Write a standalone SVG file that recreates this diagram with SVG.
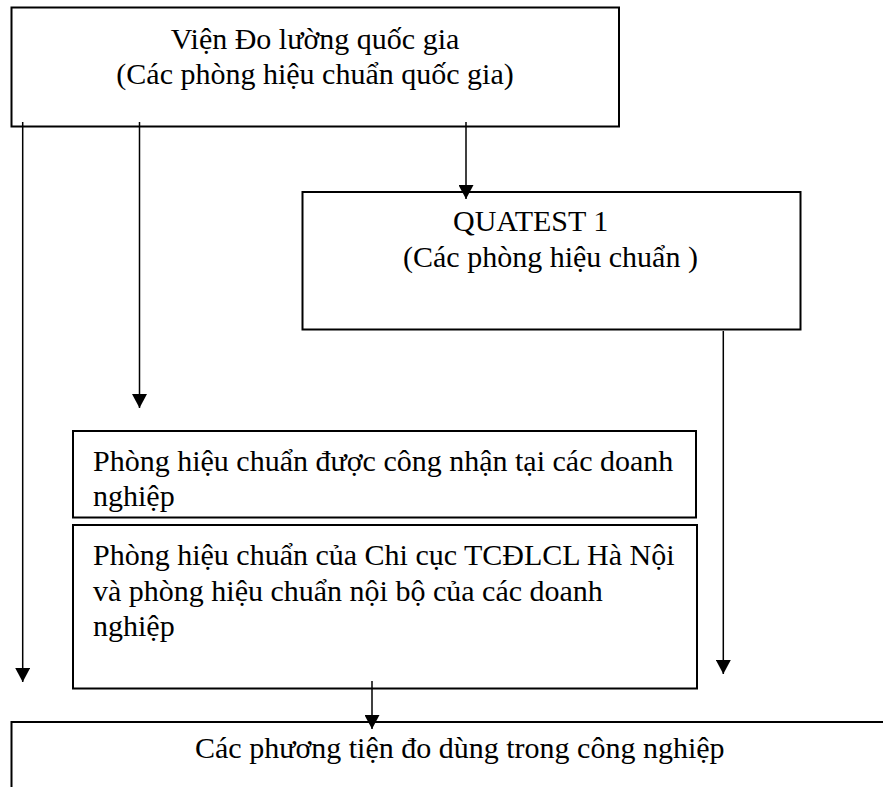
<svg xmlns="http://www.w3.org/2000/svg" width="883" height="787" viewBox="0 0 883 787">
<style>
.box{fill:#fff;stroke:#000;stroke-width:2}
.t{font-family:"Liberation Serif","Times New Roman",serif;font-size:30px;fill:#000}
.c{text-anchor:middle}
.ln{stroke:#000;stroke-width:1.5;fill:none}
</style>
<defs>
<marker id="ah" markerUnits="userSpaceOnUse" markerWidth="14" markerHeight="15" refX="14" refY="7.5" orient="auto" viewBox="0 0 14 15">
<path d="M0,0 L14,7.5 L0,15 z" fill="#000"/>
</marker>
</defs>
<rect width="883" height="787" fill="#fff"/>
<g id="n-vien">
<rect class="box" x="11.5" y="7.5" width="607.5" height="119"/>
<text class="t c" x="315" y="48.5">Viện Đo lường quốc gia</text>
<text class="t c" x="315" y="84">(Các phòng hiệu chuẩn quốc gia)</text>
</g>
<g id="n-quatest">
<rect class="box" x="302.5" y="192" width="498" height="137.5"/>
<text class="t" x="453" y="231">QUATEST 1</text>
<text class="t" x="403" y="267">(Các phòng hiệu chuẩn )</text>
</g>
<g id="n-congnhan">
<rect class="box" x="73" y="431" width="623" height="86.5"/>
<text class="t" x="93" y="470.5">Phòng hiệu chuẩn được công nhận tại các doanh</text>
<text class="t" x="93" y="505.5">nghiệp</text>
</g>
<g id="n-chicuc">
<rect class="box" x="73" y="525" width="624" height="163.5"/>
<text class="t" x="93" y="565">Phòng hiệu chuẩn của Chi cục TCĐLCL Hà Nội</text>
<text class="t" x="93" y="601">và phòng hiệu chuẩn nội bộ của các doanh</text>
<text class="t" x="93" y="636">nghiệp</text>
</g>
<g id="n-phuongtien">
<rect class="box" x="11.5" y="722" width="900" height="100"/>
<text class="t" x="195" y="758">Các phương tiện đo dùng trong công nghiệp</text>
</g>
<g id="connectors">
<line class="ln" x1="22.7" y1="122" x2="22.7" y2="682" marker-end="url(#ah)"/>
<line class="ln" x1="139.5" y1="122" x2="139.5" y2="408" marker-end="url(#ah)"/>
<line class="ln" x1="466" y1="122" x2="466" y2="199" marker-end="url(#ah)"/>
<line class="ln" x1="723.3" y1="331" x2="723.3" y2="674" marker-end="url(#ah)"/>
<line class="ln" x1="372" y1="681" x2="372" y2="729" marker-end="url(#ah)"/>
</g>
</svg>
